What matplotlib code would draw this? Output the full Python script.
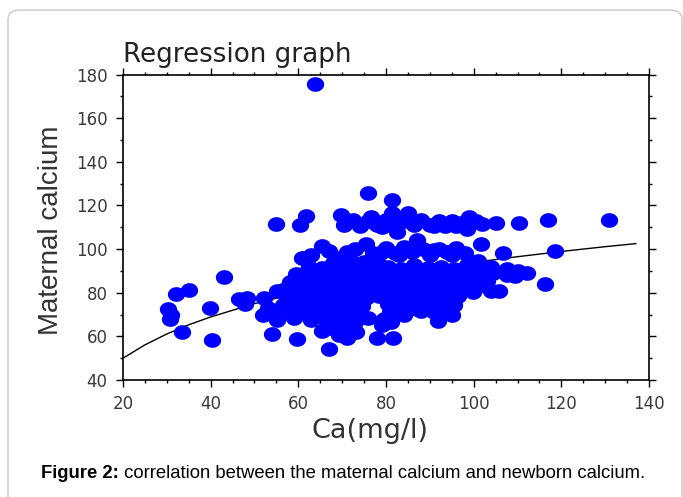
import matplotlib
matplotlib.use("Agg")
import matplotlib.pyplot as plt
import numpy as np
from matplotlib.path import Path
from matplotlib.patches import FancyBboxPatch
from matplotlib.ticker import MultipleLocator

# newborn Ca (x) / maternal Ca (y), in groups
outer_x = [63.8, 76.0, 81.3, 55.0, 61.8, 60.3, 116.9, 130.8, 110.4, 105.1,
           101.7, 118.6, 106.7, 116.2, 112.2, 109.5, 110.0, 104.0, 105.8, 99.8,
           101.0, 107.5]
outer_y = [175.8, 125.5, 122.5, 111.4, 115.0, 111.2, 113.2, 113.2, 112.1, 112.1,
           102.3, 99.3, 98.2, 84.1, 89.0, 87.5, 90.0, 80.6, 81.0, 80.3,
           94.5, 91.0]

left_x = [30.2, 30.7, 31.0, 32.0, 35.0, 33.5, 40.3, 39.9, 43.0, 46.4,
          48.4, 47.9, 52.2, 55.2, 54.1, 51.9, 55.1, 59.1, 59.6, 53.0,
          56.0, 60.8, 62.3]
left_y = [72.5, 67.9, 70.0, 79.4, 81.3, 62.1, 58.5, 73.2, 87.2, 77.2,
          77.8, 74.9, 77.5, 80.6, 61.1, 69.7, 67.3, 68.3, 58.7, 73.0,
          72.0, 95.9, 90.5]

top_band_x = [69.8, 70.5, 72.5, 74.0, 76.0, 78.0, 80.0, 81.4, 82.0, 82.5,
              84.0, 85.0, 86.5, 88.0, 90.0, 92.0, 93.5, 95.0, 97.0, 98.5,
              99.0, 100.5, 102.0, 76.5, 79.0, 91.0, 96.0]
top_band_y = [115.8, 111.0, 113.5, 110.5, 113.0, 111.0, 113.5, 116.5, 111.0, 108.0,
              113.0, 116.5, 111.0, 113.5, 111.0, 113.0, 110.5, 113.0, 112.0, 109.0,
              114.5, 113.0, 111.5, 114.5, 110.0, 110.5, 110.5]

mid_band_x = [61.5, 63.0, 65.5, 67.0, 69.0, 71.0, 73.0, 75.5, 77.0, 80.0,
              82.0, 84.0, 86.0, 87.0, 88.5, 90.0, 92.0, 94.0, 96.0, 98.0,
              75.0, 78.0, 72.0, 68.0, 79.0, 83.0, 91.0, 95.0]
mid_band_y = [96.0, 97.5, 101.5, 99.0, 96.0, 98.5, 100.0, 102.5, 98.0, 100.5,
              98.0, 101.0, 98.5, 104.0, 100.0, 97.5, 100.0, 98.5, 100.5, 98.0,
              94.0, 95.0, 94.5, 93.5, 98.5, 97.5, 99.5, 97.5]

main_x = [62.5, 65.5, 68.5, 71.5, 74.5, 77.5, 80.5, 83.5, 86.5, 89.5, 92.5, 95.5, 98.5, 101.5, 104.0,
          59.5, 62.5, 65.5, 68.5, 71.5, 74.5, 77.5, 80.5, 83.5, 86.5, 89.5, 92.5, 95.5, 98.5, 101.5, 104.5, 107.5,
          58.0, 61.0, 64.0, 67.0, 70.0, 73.0, 76.0, 79.0, 82.0, 85.0, 88.0, 91.0, 94.0, 97.0, 100.0, 103.0,
          57.0, 60.0, 63.0, 66.0, 69.0, 72.0, 75.0, 78.0, 81.0, 84.0, 87.0, 90.0, 93.0, 96.0, 99.0, 101.0,
          57.5, 60.5, 63.5, 66.5, 69.5, 72.5, 75.5, 78.5, 81.5, 84.5, 87.5, 90.5, 93.5, 96.5,
          56.5, 59.5, 62.5, 65.5, 68.5, 71.5, 74.5, 80.5, 83.5, 86.5, 89.5, 92.5, 95.5,
          58.0, 61.0, 64.0, 67.0, 70.0, 73.0, 81.0, 88.0, 91.0, 94.0,
          63.0, 66.0, 76.0, 79.5, 84.2, 87.1, 79.2, 81.2, 91.9, 95.1]
main_y = [92.0, 91.5, 92.5, 91.0, 92.5, 91.5, 92.0, 91.0, 92.5, 91.5, 92.0, 91.0, 92.5, 91.5, 92.0,
          88.5, 89.0, 88.0, 89.0, 88.0, 89.0, 88.0, 89.0, 88.0, 89.0, 88.0, 89.0, 88.0, 89.0, 88.0, 89.0, 88.0,
          85.0, 85.5, 84.5, 85.5, 84.5, 85.5, 84.5, 85.5, 84.5, 85.5, 84.5, 85.5, 84.5, 85.5, 84.5, 85.5,
          81.5, 82.0, 81.0, 82.0, 81.0, 82.0, 81.0, 82.0, 81.0, 82.0, 81.0, 82.0, 81.0, 82.0, 81.5, 83.0,
          78.0, 78.5, 77.5, 78.5, 77.5, 78.5, 77.5, 78.5, 77.5, 78.5, 77.5, 78.5, 77.5, 78.5,
          74.5, 75.0, 74.0, 75.0, 74.0, 75.0, 74.0, 75.0, 74.5, 75.0, 74.0, 75.0, 74.5,
          71.0, 71.5, 70.5, 71.5, 70.5, 71.5, 71.0, 71.5, 71.0, 72.0,
          67.5, 68.0, 68.5, 68.0, 69.7, 72.5, 65.3, 66.8, 67.1, 69.6]

low_x = [67.1, 65.5, 67.5, 69.3, 70.0, 71.2, 72.0, 73.2, 71.0, 73.0, 68.5, 70.2, 77.9, 81.6]
low_y = [54.4, 62.5, 64.0, 60.7, 63.0, 59.1, 61.5, 62.2, 66.0, 66.5, 67.0, 66.0, 59.1, 59.1]

# regression curve
fit_x = [20, 25, 30, 35, 40, 50, 60, 70, 80, 90, 100, 110, 120, 130, 137]
fit_y = [50.0, 56.1, 61.1, 65.3, 68.9, 75.0, 80.0, 84.2, 87.8, 91.0, 93.9, 96.5, 98.9, 101.1, 102.5]

newborn = np.concatenate([outer_x, left_x, top_band_x, mid_band_x, main_x, low_x])
maternal = np.concatenate([outer_y, left_y, top_band_y, mid_band_y, main_y, low_y])

# slightly wide blob marker, like the picture
t = np.linspace(0, 2 * np.pi, 25)
blob = Path(np.column_stack([np.cos(t), 0.85 * np.sin(t)]), closed=True)

fig = plt.figure(figsize=(6.83, 4.97), dpi=100)

frame = FancyBboxPatch((8 / 683, -0.1), 674 / 683, 1.1 - 10 / 497,
                       boxstyle="round,pad=0,rounding_size=0.018",
                       transform=fig.transFigure, facecolor="white",
                       edgecolor="#c8c8c8", linewidth=1.0, zorder=-10)
fig.patches.append(frame)

ax = fig.add_axes([123 / 683, 1 - 380 / 497, 526 / 683, 305.5 / 497])
ax.set_facecolor("none")
ax.plot(fit_x, fit_y, color="black", lw=1.0, zorder=2)
ax.plot(newborn, maternal, linestyle="none", marker=blob, markersize=12.5,
        color="#0000ff", markeredgewidth=0, zorder=3)

ax.set_xlim(20, 140)
ax.set_ylim(40, 180)
ax.xaxis.set_major_locator(MultipleLocator(20))
ax.xaxis.set_minor_locator(MultipleLocator(5))
ax.yaxis.set_major_locator(MultipleLocator(20))
ax.yaxis.set_minor_locator(MultipleLocator(10))
ax.tick_params(which="both", direction="out", top=True, right=True,
               color="black", width=1.0)
ax.tick_params(which="major", length=5, labelsize=12, labelcolor="#3a3a3a", pad=6)
ax.tick_params(which="minor", length=2.5)
for s in ax.spines.values():
    s.set_linewidth(1.2)

ax.set_xlabel("Ca(mg/l)", fontsize=19.5, color="#333333")
ax.xaxis.set_label_coords((370 - 123) / 526, -(431 - 380) / 305.5)
ax.xaxis.label.set_va("center")
ax.set_ylabel("Maternal calcium", fontsize=20, color="#333333",
              family=["Liberation Sans", "DejaVu Sans"])
ax.yaxis.set_label_coords((51 - 123) / 526, 0.49)
ax.yaxis.label.set_va("center")
fig.text(123 / 683, 1 - 62 / 497, "Regression graph", fontsize=18.8,
         color="#222222", va="baseline", ha="left")

cap_font = ["Liberation Sans Narrow", "Liberation Sans", "DejaVu Sans"]
t1 = fig.text(41 / 683, 1 - 478 / 497, "Figure 2:", fontsize=13.3,
              family=cap_font, weight="bold", va="baseline")
ax.annotate(" correlation between the maternal calcium and newborn calcium.",
            xy=(1, 0), xycoords=t1, va="bottom", ha="left", fontsize=13.3,
            family=cap_font, annotation_clip=False)

fig.savefig("out.png", dpi=100)
